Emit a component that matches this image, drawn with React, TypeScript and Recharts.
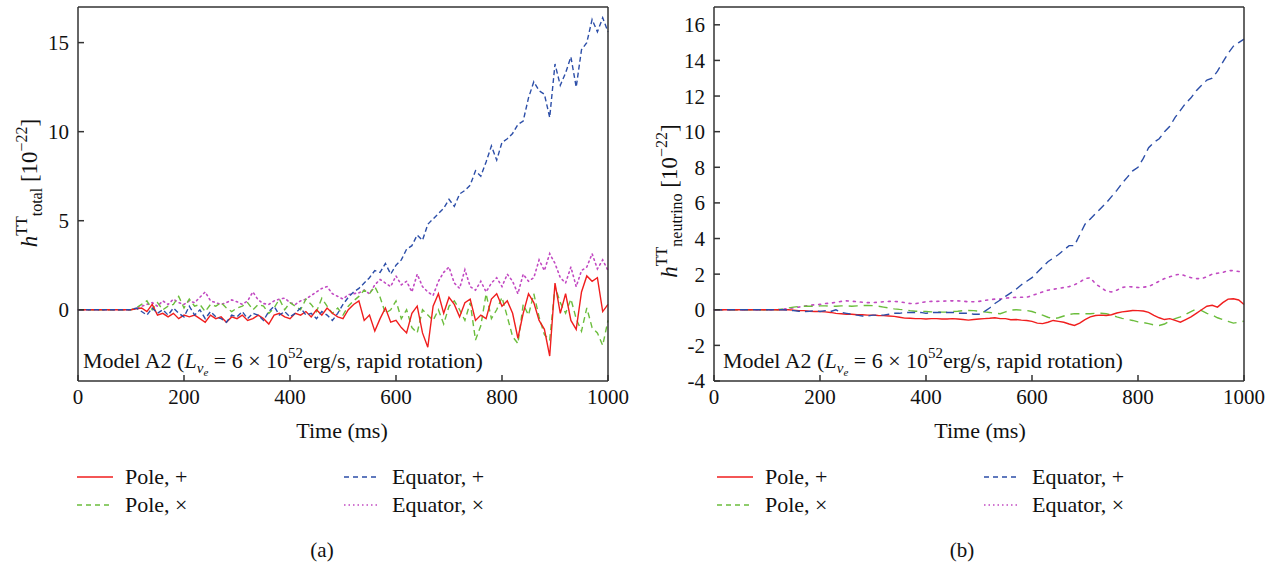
import { LineChart, Line, XAxis, YAxis, Legend, Customized } from 'recharts';

const SERIF = '"Liberation Serif", "DejaVu Serif", serif';

// time axis (ms)
const timeMs = [
  0, 10, 20, 30, 40, 50, 60, 70, 80, 90, 100,
  110, 120, 130, 140, 150, 160, 170, 180, 190, 200,
  210, 220, 230, 240, 250, 260, 270, 280, 290, 300,
  310, 320, 330, 340, 350, 360, 370, 380, 390, 400,
  410, 420, 430, 440, 450, 460, 470, 480, 490, 500,
  510, 520, 530, 540, 550, 560, 570, 580, 590, 600,
  610, 620, 630, 640, 650, 660, 670, 680, 690, 700,
  710, 720, 730, 740, 750, 760, 770, 780, 790, 800,
  810, 820, 830, 840, 850, 860, 870, 880, 890, 900,
  910, 920, 930, 940, 950, 960, 970, 980, 990, 1000,
];

// (a) h_total, 10^-22
const polePlusTotal = [
  0, 0, 0, 0, 0, 0, 0, 0, 0, 0, 0,
  0.05, 0.1, -0.1, 0.3, -0.3, -0.2, -0.4, -0.2, -0.5, -0.3,
  -0.4, -0.3, -0.5, -0.7, -0.3, -0.5, -0.4, -0.7, -0.4, -0.5,
  -0.3, -0.6, -0.5, -0.3, -0.5, -0.8, -0.3, -0.2, -0.4, -0.5,
  -0.2, -0.3, -0.1, -0.4, 0.0, -0.3, 0.1, -0.2, -0.4, -0.5,
  0.0, 0.3, 0.5, -0.6, -0.3, -1.2, -0.5, 0.1, -0.7, -0.6,
  -1.0, -1.3, -0.2, 0.2, -1.3, -2.1, 0.2, 0.9, -0.2, 0.7,
  0.3, -0.4, 0.4, 0.6, -0.6, -0.3, -0.5, 0.6, 0.9, 0.2,
  0.5, -0.2, -1.6, -0.2, 0.9, 0.4, -0.6, -1.1, -2.6, 1.5,
  -0.2, 0.9, -0.6, -1.1, 1.0, 1.9, 1.6, 1.8, -0.1, 0.3,
];
const poleCrossTotal = [
  0, 0, 0, 0, 0, 0, 0, 0, 0, 0, 0,
  0.1, 0.3, 0.5, 0.0, 0.4, 0.0, 0.2, 0.3, 0.75, 0.1,
  0.6, 0.2, 0.3, -0.1, 0.3, 0.2, 0.4, 0.1, -0.1, 0.1,
  0.2, 0.4, 0.0, 0.3, 0.2, -0.2, 0.1, 0.6, 0.0, 0.4,
  0.2, 0.0, 0.6, 0.3, -0.1, 0.65, 0.2, -0.2, 0.1, -0.3,
  0.2, 0.5, 0.75, 1.1, 0.9, 1.3, 0.7, -0.2, 0.0, 0.5,
  -0.5, 0.0, -1.0, -1.3, 0.0, -0.3, -0.6, 0.0, -0.8, 0.2,
  0.5, 0.0, -0.6, 0.4, -1.7, -0.9, 0.9, -0.5, 0.0, 0.7,
  -0.4, -1.5, -1.9, 0.3, -0.3, 0.9, -0.4, -1.4, -1.7, 1.3,
  0.4, -0.2, 0.6, -0.5, -1.2, 0.1, -1.0, -1.3, -2.0, -0.6,
];
const eqPlusTotal = [
  0, 0, 0, 0, 0, 0, 0, 0, 0, 0, 0,
  0.1, -0.1, -0.3, 0.1, -0.2, 0.0, -0.3, 0.1, -0.2, -0.4,
  0.2, -0.3, 0.0, -0.5, -0.1, -0.4, -0.5, -0.7, -0.3, -0.4,
  -0.1, -0.5, -0.2, -0.3, -0.6, -0.1, 0.2, -0.3, -0.1, -0.4,
  -0.2, 0.1, -0.3, -0.2, -0.5, -0.1, -0.3, -0.6, -0.2, 0.3,
  0.7, 1.0, 1.2, 1.5, 1.8, 2.2, 2.1, 2.6, 2.0, 2.5,
  2.8, 3.4, 3.6, 4.2, 3.9, 4.8, 5.1, 5.4, 5.7, 6.2,
  5.8, 6.5, 6.7, 7.0, 7.8, 7.5, 8.3, 9.2, 8.4, 9.4,
  9.6, 9.9, 10.4, 10.6, 11.9, 12.8, 12.3, 12.1, 10.8, 13.8,
  12.6, 13.3, 14.2, 12.5, 14.6, 15.0, 16.3, 15.6, 16.4, 15.6,
];
const eqCrossTotal = [
  0, 0, 0, 0, 0, 0, 0, 0, 0, 0, 0,
  0.1, 0.2, 0.3, 0.4, 0.2, 0.5, 0.3, 0.6, 0.4, 0.3,
  0.5, 0.4, 0.7, 1.0, 0.5, 0.4, 0.3, 0.4, 0.55, 0.45,
  0.3, 0.5, 1.0, 0.55, 0.35, 0.3, 0.5, 0.6, 0.65, 0.4,
  0.3, 0.5, 0.6, 0.8, 1.0, 1.2, 1.3, 0.9, 0.75, 0.6,
  0.85, 0.9, 0.95, 1.1, 0.9, 1.4, 1.7, 1.5, 1.3, 1.9,
  1.4, 1.6, 1.0, 2.0, 1.3, 1.0, 0.8, 1.6, 2.1, 2.4,
  1.5, 1.2, 2.25, 1.3, 1.1, 1.6, 1.0, 1.5, 1.8, 1.3,
  2.0, 1.6, 0.9, 2.0, 1.6, 1.8, 2.8, 2.2, 3.15, 2.6,
  1.8, 1.5, 2.4, 1.3, 2.2, 2.4, 3.15, 2.3, 2.8, 2.2,
];

// (b) h_neutrino, 10^-22
const polePlusNu = [
  0, 0, 0, 0, 0, 0, 0, 0, 0, 0, 0,
  0, 0, 0, 0, -0.02, -0.05, -0.05, -0.08, -0.1, -0.1,
  -0.12, -0.15, -0.2, -0.22, -0.25, -0.25, -0.28, -0.28, -0.3, -0.3,
  -0.32, -0.33, -0.35, -0.37, -0.42, -0.47, -0.48, -0.5, -0.5, -0.52,
  -0.5, -0.5, -0.52, -0.52, -0.5, -0.52, -0.55, -0.58, -0.55, -0.52,
  -0.5, -0.48, -0.45, -0.5, -0.5, -0.56, -0.55, -0.58, -0.6, -0.65,
  -0.75, -0.78, -0.7, -0.6, -0.65, -0.7, -0.8, -0.88, -0.75, -0.55,
  -0.4, -0.32, -0.3, -0.32, -0.28, -0.18, -0.12, -0.08, -0.04, -0.05,
  -0.07, -0.15, -0.32, -0.45, -0.55, -0.5, -0.6, -0.7, -0.55, -0.4,
  -0.2, 0.0, 0.2, 0.25, 0.15, 0.4, 0.6, 0.62, 0.55, 0.3,
];
const poleCrossNu = [
  0, 0, 0, 0, 0, 0, 0, 0, 0, 0, 0,
  0, 0, 0.05, 0.1, 0.15, 0.18, 0.2, 0.2, 0.2, 0.22,
  0.22, 0.2, 0.2, 0.22, 0.22, 0.2, 0.22, 0.24, 0.24, 0.23,
  0.2, 0.15, 0.1, 0.05, 0.02, 0.0, -0.05, -0.08, -0.1, -0.1,
  -0.12, -0.12, -0.13, -0.13, -0.1, -0.08, -0.05, -0.04, -0.05, -0.08,
  -0.12, -0.15, -0.2, -0.22, -0.12, -0.02, 0.0, -0.02, -0.04, -0.1,
  -0.2, -0.3, -0.42, -0.5, -0.45, -0.35, -0.26, -0.22, -0.22, -0.22,
  -0.22, -0.2, -0.2, -0.22, -0.3, -0.4, -0.48, -0.55, -0.6, -0.68,
  -0.72, -0.78, -0.85, -0.88, -0.8, -0.62, -0.5, -0.4, -0.26, -0.1,
  0.05, -0.05, -0.2, -0.3, -0.45, -0.55, -0.65, -0.75, -0.7, -0.64,
];
const eqPlusNu = [
  0, 0, 0, 0, 0, 0, 0, 0, 0, 0, 0,
  0, 0, 0, -0.02, -0.05, -0.08, -0.1, -0.08, -0.05, -0.1,
  -0.05, -0.1, 0.0, -0.15, -0.2, -0.25, -0.3, -0.35, -0.35, -0.3,
  -0.3, -0.3, -0.25, -0.2, -0.2, -0.15, -0.15, -0.15, -0.15, -0.2,
  -0.15, -0.15, -0.15, -0.15, -0.15, -0.2, -0.2, -0.2, -0.25, -0.25,
  -0.1, 0.1, 0.35, 0.55, 0.75, 0.95, 1.15, 1.4, 1.6, 1.8,
  2.1, 2.4, 2.7, 2.9, 3.1, 3.35, 3.6, 3.6, 4.2, 4.8,
  5.1, 5.4, 5.7, 6.0, 6.35, 6.7, 7.1, 7.45, 7.8, 8.0,
  8.5, 9.1, 9.4, 9.6, 10.0, 10.3, 10.8, 11.2, 11.6, 11.9,
  12.3, 12.6, 12.9, 13.0, 13.4, 13.9, 14.4, 14.8, 15.0, 15.2,
];
const eqCrossNu = [
  0, 0, 0, 0, 0, 0, 0, 0, 0, 0, 0,
  0, 0, 0.03, 0.07, 0.1, 0.15, 0.2, 0.25, 0.28, 0.3,
  0.35, 0.37, 0.42, 0.47, 0.5, 0.48, 0.45, 0.42, 0.4, 0.4,
  0.42, 0.45, 0.47, 0.47, 0.45, 0.4, 0.35, 0.34, 0.4, 0.45,
  0.47, 0.47, 0.48, 0.5, 0.5, 0.5, 0.48, 0.45, 0.45, 0.47,
  0.52, 0.56, 0.6, 0.6, 0.65, 0.68, 0.7, 0.7, 0.7, 0.8,
  0.9, 1.0, 1.1, 1.15, 1.2, 1.25, 1.3, 1.4, 1.55, 1.75,
  1.8, 1.45, 1.25, 1.05, 1.0, 1.1, 1.25, 1.3, 1.28, 1.25,
  1.27, 1.3, 1.45, 1.6, 1.75, 1.85, 1.95, 2.0, 1.9, 1.8,
  1.75, 1.75, 1.85, 2.0, 2.05, 2.1, 2.2, 2.2, 2.15, 2.1,
];

const xTicks = [0, 200, 400, 600, 800, 1000];
const yTicksTotal = [0, 5, 10, 15];
const yTicksNeutrino = [-4, -2, 0, 2, 4, 6, 8, 10, 12, 14, 16];

const legendNames = ['Pole, +', 'Pole, ×', 'Equator, +', 'Equator, ×'];

const COLORS = {
  polePlus: '#f01e1e',
  poleCross: '#6bbd3c',
  eqPlus: '#2c4ea8',
  eqCross: '#c24ac2',
};

const dashesA = { polePlus: undefined, poleCross: '6 4', eqPlus: '5 3', eqCross: '1.5 3.5' };
const dashesB = { polePlus: undefined, poleCross: '9 6', eqPlus: '8 5', eqCross: '2 5' };

const dataA = timeMs.map((t, i) => ({
  t,
  polePlus: polePlusTotal[i],
  poleCross: poleCrossTotal[i],
  eqPlus: eqPlusTotal[i],
  eqCross: eqCrossTotal[i],
}));

const dataB = timeMs.map((t, i) => ({
  t,
  polePlus: polePlusNu[i],
  poleCross: poleCrossNu[i],
  eqPlus: eqPlusNu[i],
  eqCross: eqCrossNu[i],
}));

const legendKeys = ['polePlus', 'poleCross', 'eqPlus', 'eqCross'] as const;
const legendDash: any = { polePlus: undefined, poleCross: '5 4', eqPlus: '5 4', eqCross: '1.5 3' };

const LegendBlock = () => (
  <svg width={440} height={60} style={{ fontFamily: SERIF, display: 'block' }}>
    {legendKeys.map((k, i) => {
      const col = i < 2 ? 0 : 1;
      const row = i % 2;
      const x0 = col === 0 ? 7 : 274;
      const y = 14 + row * 28;
      return (
        <g key={k}>
          <line x1={x0} x2={x0 + 36} y1={y} y2={y} stroke={COLORS[k]} strokeWidth={1.6}
            strokeDasharray={legendDash[k]} />
          <text x={x0 + 48} y={y + 7} fontSize={22} fill="#111">{legendNames[i]}</text>
        </g>
      );
    })}
  </svg>
);

const Overlay = ({ sub, labelY, centerX, caption }: any) => (
  <g style={{ fontFamily: SERIF }} fill="#111">
    <text transform={`rotate(-90, 37, ${labelY})`} x={37} y={labelY} textAnchor="middle" fontSize={23}>
      <tspan fontStyle="italic">h</tspan>
      <tspan fontSize={16} dy={-10}>TT</tspan>
      <tspan fontSize={16} dy={15}>{sub}</tspan>
      <tspan dy={-5}>{' [10'}</tspan>
      <tspan fontSize={16} dy={-10}>{'−22'}</tspan>
      <tspan dy={10}>{']'}</tspan>
    </text>
    <text x={83} y={368} fontSize={22}>
      {'Model A2 ('}
      <tspan fontStyle="italic">L</tspan>
      <tspan fontStyle="italic" fontSize={15} dy={5}>ν</tspan>
      <tspan fontStyle="italic" fontSize={11} dy={3}>e</tspan>
      <tspan dy={-8}>{'  = 6 × 10'}</tspan>
      <tspan fontSize={15} dy={-10}>52</tspan>
      <tspan dy={10}>{'erg/s, rapid rotation)'}</tspan>
    </text>
    <text x={centerX} y={438} textAnchor="middle" fontSize={22}>
      Time (ms)
    </text>
    <text x={322} y={557} textAnchor="middle" fontSize={21}>{caption}</text>
  </g>
);

const tickStyle = { fill: '#111', fontSize: 21, fontFamily: SERIF };
const AXIS = '#333';

const Panel = ({ data, yTicks, dashes, margin, width, sub, labelY, centerX, caption }: any) => (
  <LineChart width={width} height={571} data={data} margin={margin}>
    <XAxis dataKey="t" type="number" domain={[0, 1000]} ticks={xTicks} height={40}
      tickSize={-6} tickMargin={14} tick={tickStyle} stroke={AXIS} strokeWidth={1.5} interval={0} />
    <XAxis xAxisId="top" orientation="top" type="number" domain={[0, 1000]} ticks={xTicks} height={1}
      tickSize={-6} tick={false} stroke={AXIS} strokeWidth={1.5} interval={0} />
    <YAxis type="number" domain={[-4, 17]} ticks={yTicks} width={70} allowDataOverflow
      tickSize={-6} tickMargin={15} tick={tickStyle} stroke={AXIS} strokeWidth={1.5} interval={0} />
    <YAxis yAxisId="right" orientation="right" type="number" domain={[-4, 17]} ticks={yTicks} width={1}
      allowDataOverflow tickSize={-6} tick={false} stroke={AXIS} strokeWidth={1.5} interval={0} />
    <Line dataKey="eqCross" stroke={COLORS.eqCross} strokeDasharray={dashes.eqCross} strokeWidth={1.6}
      dot={false} isAnimationActive={false} strokeLinecap="round" />
    <Line dataKey="poleCross" stroke={COLORS.poleCross} strokeDasharray={dashes.poleCross} strokeWidth={1.4}
      dot={false} isAnimationActive={false} />
    <Line dataKey="polePlus" stroke={COLORS.polePlus} strokeWidth={1.4} dot={false} isAnimationActive={false} />
    <Line dataKey="eqPlus" stroke={COLORS.eqPlus} strokeDasharray={dashes.eqPlus} strokeWidth={1.4}
      dot={false} isAnimationActive={false} />
    <Legend verticalAlign="middle" align="center" layout="horizontal"
      wrapperStyle={{ left: 70, top: 463, width: 440, height: 60 }}
      content={() => <LegendBlock />} />
    <Customized component={<Overlay sub={sub} labelY={labelY} centerX={centerX} caption={caption} />} />
  </LineChart>
);

export default function App() {
  return (
    <div style={{ position: 'absolute', left: 0, top: 0, width: 1273, height: 571, background: '#fff', fontFamily: SERIF }}>
      <div style={{ position: 'absolute', left: 0, top: 0 }}>
        <Panel data={dataA} yTicks={yTicksTotal} dashes={dashesA} width={640}
          margin={{ top: 6, right: 31, bottom: 150, left: 8 }}
          sub="total" labelY={183} centerX={342} caption="(a)" />
      </div>
      <div style={{ position: 'absolute', left: 640, top: 0 }}>
        <Panel data={dataB} yTicks={yTicksNeutrino} dashes={dashesB} width={633}
          margin={{ top: 6, right: 28, bottom: 150, left: 4 }}
          sub="neutrino" labelY={201} centerX={340} caption="(b)" />
      </div>
    </div>
  );
}
